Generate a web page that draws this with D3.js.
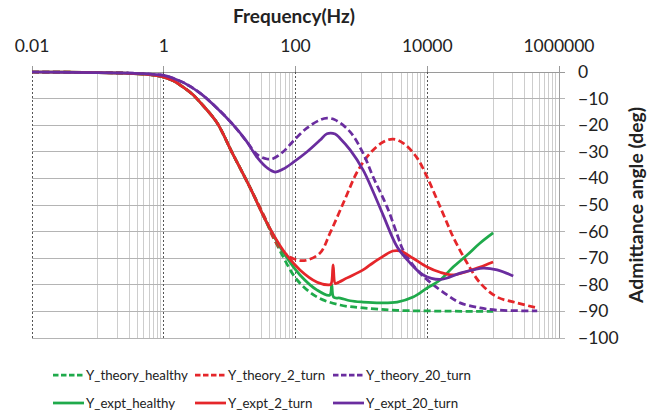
<!DOCTYPE html>
<html><head><meta charset="utf-8">
<script src="https://cdn.jsdelivr.net/npm/d3@7"></script>
<style>html,body{margin:0;padding:0;background:#fff;}svg{display:block;font-family:Lato,"Open Sans",sans-serif;}</style>
</head><body><div id="chart"></div>
<script>
// ---- data (frequency in Hz, admittance angle in degrees) ----
const xTicks = [0.01, 1, 100, 10000, 1000000];
const xTickLabels = ["0.01", "1", "100", "10000", "1000000"];
const yTicks = [0, -10, -20, -30, -40, -50, -60, -70, -80, -90, -100];
const seriesNames = ["Y_theory_healthy", "Y_theory_2_turn", "Y_theory_20_turn", "Y_expt_healthy", "Y_expt_2_turn", "Y_expt_20_turn"];

const freqTheoryHealthy = [0.01, 0.1, 0.3, 0.5, 0.7, 1, 1.4, 2, 2.7, 3.6, 6.4, 11, 20, 37, 65, 106, 213, 476, 1060, 3500, 20000, 100000];
const degTheoryHealthy  = [0, -0.2, -0.5, -0.8, -1.2, -1.9, -3.3, -5.8, -8.3, -11.5, -19, -30.5, -43, -57, -69.5, -78.2, -84.6, -87.6, -88.7, -89.6, -89.9, -90];

const freqTheory2 = [0.01, 0.1, 0.3, 0.5, 0.7, 1, 1.4, 2, 2.7, 3.6, 6.4, 11, 20, 37, 44, 65, 106, 150, 237, 335, 560, 862, 1360, 2140, 3040, 4300, 7000, 9960, 14100, 20000, 24700, 40300, 63500, 115000, 232000, 467000];
const degTheory2  = [0, -0.2, -0.5, -0.8, -1.2, -1.9, -3.3, -5.8, -8.3, -11.5, -19, -30.5, -43, -56.5, -61.3, -67.7, -70.7, -70.7, -68, -60.5, -48, -37.6, -30.5, -26.3, -25.2, -26.7, -32.3, -39.5, -48, -56.8, -62, -71.8, -79.3, -84.6, -86.8, -88.7];

const freqTheory20 = [0.01, 0.1, 0.3, 0.5, 0.7, 1, 1.4, 2, 3.6, 6.4, 11, 18, 26, 37, 46, 65, 92, 150, 237, 300, 400, 675, 1060, 1510, 2460, 3600, 4300, 7000, 11000, 20000, 31600, 63500, 115000, 467000];
const degTheory20  = [0, -0.2, -0.4, -0.6, -0.9, -1.3, -2.4, -4, -8, -13.5, -19.5, -26, -31, -32.7, -32.5, -30, -26, -21, -18, -17.3, -18, -22.5, -30.5, -39.5, -50.8, -62, -67, -74.4, -79, -83.8, -86.8, -88.7, -89.5, -89.8];

const freqExptHealthy = [0.01, 0.1, 0.3, 0.5, 0.7, 1, 1.4, 2, 2.7, 3.6, 6.4, 11, 20, 37, 65, 117, 213, 330, 355, 380, 476, 675, 1060, 1930, 3500, 6100, 9960, 15700, 24700, 40300, 63500, 100000];
const degExptHealthy  = [0, -0.2, -0.5, -0.8, -1.2, -1.9, -3.3, -5.8, -8.3, -11.5, -19, -30.5, -43, -56.8, -67.7, -76.3, -82, -83.9, -80, -84.7, -85, -86, -86.5, -86.8, -86.5, -84.6, -81.2, -78.2, -73.3, -68.8, -64.3, -60.5];

const freqExpt2 = [0.01, 0.1, 0.3, 0.5, 0.7, 1, 1.4, 2, 2.7, 3.6, 6.4, 11, 20, 37, 65, 117, 213, 313, 345, 372, 400, 428, 608, 1060, 1360, 1930, 3000, 3900, 6100, 9960, 15700, 24700, 40300, 63500, 100000];
const degExpt2  = [0, -0.2, -0.5, -0.8, -1.2, -1.9, -3.3, -5.8, -8.3, -11.5, -19, -30.5, -43, -56.8, -67, -74.4, -79, -80, -79.8, -72.5, -79.5, -79.3, -77.4, -74.4, -72.5, -70, -67.3, -67.3, -70, -73.3, -75.3, -76.3, -75, -73.3, -71.4];

const freqExpt20 = [0.01, 0.1, 0.3, 0.5, 0.7, 1, 1.4, 2, 3.6, 6.4, 11, 18, 26, 37, 49, 65, 92, 150, 237, 300, 400, 476, 675, 1060, 1510, 2140, 3500, 5500, 8700, 15700, 31600, 50000, 70600, 115000, 202000];
const degExpt20  = [0, -0.2, -0.4, -0.6, -0.9, -1.3, -2.4, -4, -8, -13.5, -19.5, -26, -32, -36, -37.6, -36.5, -34, -30, -25.6, -23.2, -23.3, -25, -29.3, -36.8, -45, -53.8, -65.8, -71.8, -76.3, -78, -75.6, -74.4, -73.7, -74.4, -76.7];

// ---- styling ----
const GREEN = "#1faa4b", RED = "#e5262a", PURPLE = "#6a2d9f";
const series = [
  {name: seriesNames[0], f: freqTheoryHealthy, d: degTheoryHealthy, color: GREEN, dashed: true},
  {name: seriesNames[1], f: freqTheory2, d: degTheory2, color: RED, dashed: true},
  {name: seriesNames[2], f: freqTheory20, d: degTheory20, color: PURPLE, dashed: true},
  {name: seriesNames[3], f: freqExptHealthy, d: degExptHealthy, color: GREEN, dashed: false},
  {name: seriesNames[4], f: freqExpt2, d: degExpt2, color: RED, dashed: false},
  {name: seriesNames[5], f: freqExpt20, d: degExpt20, color: PURPLE, dashed: false}
];

const W = 659, H = 417;
const svg = d3.select("#chart").append("svg").attr("width", W).attr("height", H);
const x = d3.scaleLog().domain([0.01, 1e6]).range([32, 559]);
const y = d3.scaleLinear().domain([0, -100]).range([72, 338]);

// minor vertical gridlines (Excel log base 100: multiples of 10^(2k+1))
const minor = [];
[0.1, 10, 1000, 100000].forEach(b => { for (let m = 1; m <= 9; m++) minor.push(b * m); });
svg.append("g").selectAll("line").data(minor).join("line")
  .attr("x1", d => x(d)).attr("x2", d => x(d)).attr("y1", y(0)).attr("y2", y(-100))
  .attr("stroke", "#cdcdcd").attr("stroke-width", 1).attr("shape-rendering", "crispEdges");

// horizontal gridlines
svg.append("g").selectAll("line").data(yTicks).join("line")
  .attr("x1", x(0.01)).attr("x2", x(1e6) + 6).attr("y1", d => y(d)).attr("y2", d => y(d))
  .attr("stroke", d => d === 0 ? "#9a9a9a" : "#b4b4b4").attr("stroke-width", 1).attr("shape-rendering", "crispEdges");

// major vertical gridlines (dotted)
svg.append("g").selectAll("line").data(xTicks.slice(0, 4)).join("line")
  .attr("x1", d => x(d)).attr("x2", d => x(d)).attr("y1", y(0)).attr("y2", y(-100))
  .attr("stroke", "#555").attr("stroke-width", 1).attr("stroke-dasharray", "2,2").attr("shape-rendering", "crispEdges");
// right axis line
svg.append("line").attr("x1", x(1e6)).attr("x2", x(1e6)).attr("y1", y(0) - 6).attr("y2", y(-100))
  .attr("stroke", "#a0a0a0").attr("shape-rendering", "crispEdges");

// top axis ticks
svg.append("g").selectAll("line").data(xTicks).join("line")
  .attr("x1", d => x(d)).attr("x2", d => x(d)).attr("y1", y(0) - 6).attr("y2", y(0))
  .attr("stroke", "#9a9a9a").attr("shape-rendering", "crispEdges");

// top tick labels
svg.append("g").selectAll("text").data(xTicks).join("text")
  .attr("x", d => x(d)).attr("y", 52).attr("text-anchor", "middle")
  .attr("font-size", 17.5).attr("fill", "#222")
  .text((d, i) => xTickLabels[i]);

// right tick labels
svg.append("g").selectAll("text").data(yTicks).join("text")
  .attr("x", 578).attr("y", d => y(d) + 6).attr("text-anchor", "start")
  .attr("font-size", 17.5).attr("fill", "#222")
  .text(d => d3.format("d")(d));

function fit(sel, target) {
  const w = sel.node().getComputedTextLength();
  const fs = parseFloat(sel.attr("font-size"));
  sel.attr("font-size", fs * target / w);
  return fs * target / w;
}

// titles
const t1 = svg.append("text").attr("x", 294).attr("y", 23).attr("text-anchor", "middle")
  .attr("font-weight", "bold").attr("font-size", 16).attr("fill", "#222").text("Frequency(Hz)");
fit(t1, 122);
const t2 = svg.append("text").attr("transform", "translate(643,205) rotate(-90)").attr("text-anchor", "middle")
  .attr("font-weight", "bold").attr("font-size", 16).attr("fill", "#222").text("Admittance angle (deg)");
fit(t2, 196);

// series lines
const line = d3.line().x(p => x(p[0])).y(p => y(p[1])).curve(d3.curveCatmullRom.alpha(0.5));
svg.append("g").selectAll("path").data(series).join("path")
  .attr("d", s => line(s.f.map((f, i) => [f, s.d[i]])))
  .attr("fill", "none").attr("stroke", s => s.color).attr("stroke-width", 2.75)
  .attr("stroke-linejoin", "round")
  .attr("stroke-dasharray", s => s.dashed ? "7,3.5" : null);

// legend
const legCols = [85, 227, 365], legRows = [375, 403];
const leg = svg.append("g");
let legendFont = null;
series.forEach((s, i) => {
  const tx = legCols[i % 3], ty = legRows[Math.floor(i / 3)];
  leg.append("line").attr("x1", tx - 32).attr("x2", tx - 1).attr("y1", ty).attr("y2", ty)
    .attr("stroke", s.color).attr("stroke-width", 2.75).attr("stroke-dasharray", s.dashed ? "5.5,2.5" : null);
  const t = leg.append("text").attr("x", tx + 1).attr("y", ty + 5).attr("font-size", 14).attr("fill", "#222").text(s.name);
  if (i === 0) legendFont = fit(t, 102); else t.attr("font-size", legendFont);
});
</script></body></html>
